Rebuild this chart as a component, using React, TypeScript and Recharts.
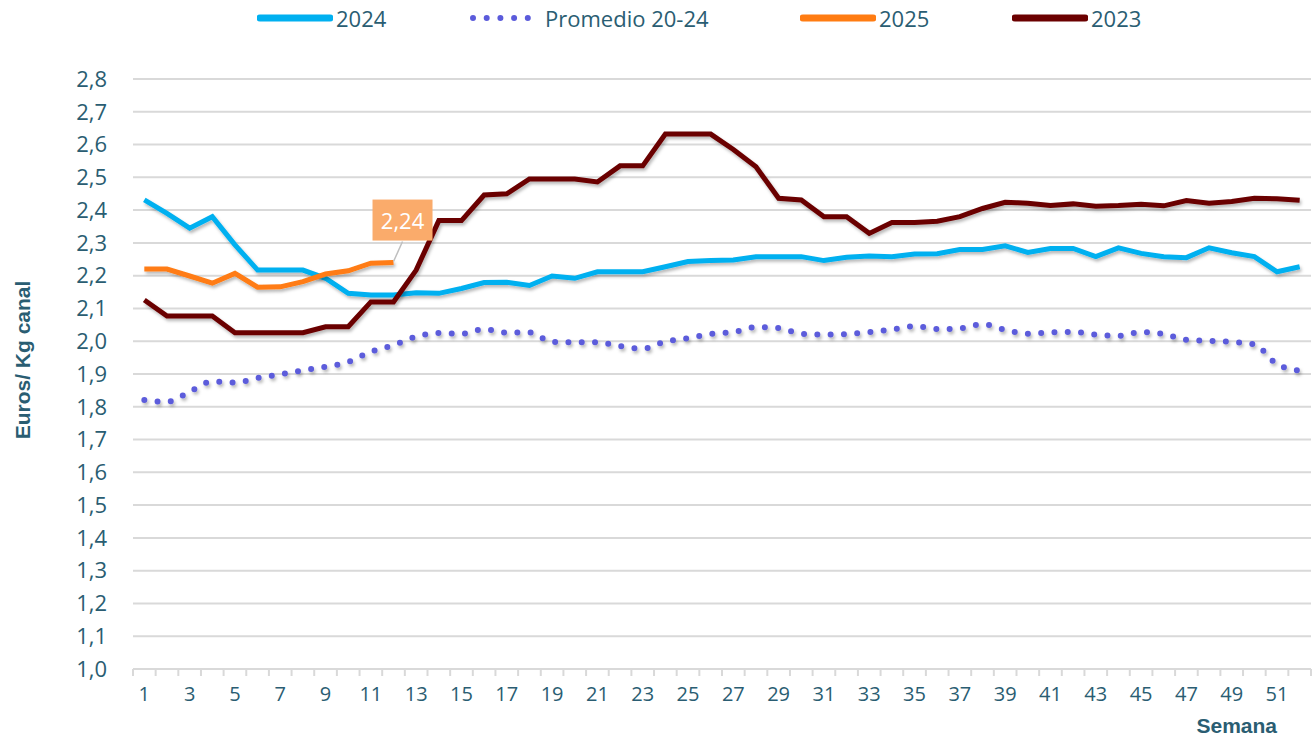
import React from 'react'
import { LineChart, Line, XAxis, YAxis, CartesianGrid, LabelList } from 'recharts'

// semanas
const weeks = [
  1, 2, 3, 4, 5, 6, 7, 8, 9, 10, 11, 12, 13, 14, 15, 16, 17, 18, 19, 20, 21, 22, 23, 24, 25, 26,
  27, 28, 29, 30, 31, 32, 33, 34, 35, 36, 37, 38, 39, 40, 41, 42, 43, 44, 45, 46, 47, 48, 49, 50, 51, 52,
]

const s2024 = [
  2.431, 2.39, 2.345, 2.38, 2.294, 2.217, 2.217, 2.217, 2.192, 2.146,
  2.141, 2.141, 2.148, 2.146, 2.161, 2.179, 2.18, 2.17, 2.199, 2.192,
  2.212, 2.212, 2.212, 2.227, 2.243, 2.246, 2.248, 2.258, 2.258, 2.258,
  2.246, 2.256, 2.26, 2.258, 2.266, 2.267, 2.28, 2.28, 2.291, 2.271,
  2.283, 2.283, 2.258, 2.285, 2.268, 2.258, 2.255, 2.285, 2.27, 2.258,
  2.212, 2.227,
]

const promedio = [
  1.821, 1.815, 1.846, 1.877, 1.874, 1.888, 1.899, 1.911, 1.922, 1.937,
  1.968, 1.988, 2.014, 2.025, 2.023, 2.037, 2.026, 2.027, 1.998, 1.997,
  1.997, 1.985, 1.977, 1.999, 2.009, 2.022, 2.028, 2.043, 2.04, 2.023,
  2.02, 2.022, 2.028, 2.036, 2.046, 2.037, 2.039, 2.052, 2.035, 2.023,
  2.027, 2.028, 2.02, 2.016, 2.028, 2.022, 2.004, 2.001, 1.998, 1.99,
  1.93, 1.91,
]

const s2025 = [2.22, 2.22, 2.199, 2.177, 2.207, 2.165, 2.166, 2.182, 2.205, 2.215, 2.238, 2.24]

const s2023 = [
  2.126, 2.077, 2.077, 2.077, 2.026, 2.026, 2.026, 2.026, 2.044, 2.044,
  2.12, 2.12, 2.217, 2.368, 2.368, 2.446, 2.45, 2.495, 2.495, 2.495,
  2.486, 2.535, 2.535, 2.632, 2.632, 2.632, 2.585, 2.532, 2.436, 2.431,
  2.38, 2.38, 2.329, 2.362, 2.362, 2.366, 2.38, 2.405, 2.424, 2.421,
  2.414, 2.419, 2.412, 2.414, 2.418, 2.413, 2.429, 2.421, 2.426, 2.436,
  2.435, 2.43,
]

const yTicks = [1.0, 1.1, 1.2, 1.3, 1.4, 1.5, 1.6, 1.7, 1.8, 1.9, 2.0, 2.1, 2.2, 2.3, 2.4, 2.5, 2.6, 2.7, 2.8]

const data = weeks.map((w, i) => ({
  week: w,
  y2024: s2024[i],
  prom: promedio[i],
  y2025: i < s2025.length ? s2025[i] : null,
  y2023: s2023[i],
}))

const TEXT = '#2A5D72'
const FONT = '"Open Sans", sans-serif'

const WeekTick = (props: any) => {
  const { x, y, payload, index } = props
  const half = payload.offset || 0
  return (
    <g>
      <line x1={x - half} y1={y} x2={x - half} y2={y + 7} stroke='#D9D9D9' strokeWidth={2} />
      {index === weeks.length - 1 && (
        <line x1={x + half} y1={y} x2={x + half} y2={y + 7} stroke='#D9D9D9' strokeWidth={2} />
      )}
      {payload.value % 2 === 1 && (
        <text x={x} y={y + 32} textAnchor='middle' fill={TEXT} fontSize={20} fontFamily={FONT}>
          {payload.value}
        </text>
      )}
    </g>
  )
}

const PriceLabel = (props: any) => {
  const { x, y, value, index } = props
  if (index !== s2025.length - 1) return null
  return (
    <g>
      <line x1={x + 9} y1={y - 21} x2={x} y2={y - 1} stroke='#BFBFBF' strokeWidth={1.5} />
      <rect x={x - 21} y={y - 63} width={60} height={41} fill='#FAAB6B' />
      <text x={x + 9} y={y - 34} textAnchor='middle' fill='#fff' fontSize={22} fontFamily={FONT}>
        {String(value.toFixed(2)).replace('.', ',')}
      </text>
    </g>
  )
}

const legendItems = [
  { name: '2024', color: '#00B0F0', dotted: false, left: 257 },
  { name: 'Promedio 20-24', color: '#5B5BDB', dotted: true, left: 470 },
  { name: '2025', color: '#FF7C12', dotted: false, left: 800 },
  { name: '2023', color: '#6B0000', dotted: false, left: 1012 },
]

function Legend() {
  return (
    <>
      {legendItems.map((it) => (
        <div key={it.name} style={{ position: 'absolute', left: it.left, top: 4, height: 28, display: 'flex', alignItems: 'center' }}>
          <svg width={it.dotted ? 62 : 76} height={12}>
            <line
              x1={3}
              y1={6}
              x2={it.dotted ? 58 : 73}
              y2={6}
              stroke={it.color}
              strokeWidth={it.dotted ? 6 : 7}
              strokeLinecap='round'
              strokeDasharray={it.dotted ? '0 13.7' : undefined}
            />
          </svg>
          <span style={{ marginLeft: it.dotted ? 13 : 3, color: TEXT, fontSize: 22, fontFamily: FONT, lineHeight: '28px' }}>
            {it.name}
          </span>
        </div>
      ))}
    </>
  )
}

export default function App() {
  return (
    <div style={{ position: 'absolute', left: 0, top: 0, width: 1313, height: 738, background: '#fff' }}>
      <Legend />
      <LineChart width={1313} height={738} data={data} margin={{ top: 79, right: 2, left: 0, bottom: 0 }}>
        <defs>
          <filter id='shadow' filterUnits='userSpaceOnUse' x={0} y={0} width={1313} height={738}>
            <feDropShadow dx={1.5} dy={2.5} stdDeviation={1.5} floodColor='#000' floodOpacity={0.28} />
          </filter>
        </defs>
        <CartesianGrid vertical={false} stroke='#D9D9D9' strokeWidth={2} />
        <XAxis
          dataKey='week'
          scale='band'
          height={69}
          interval={0}
          tickLine={false}
          tickSize={0}
          tickMargin={0}
          axisLine={{ stroke: '#D9D9D9', strokeWidth: 2 }}
          tick={<WeekTick />}
          label={{
            content: (p: any) => (
              <text
                x={p.viewBox.x + p.viewBox.width - 34}
                y={p.viewBox.y + 64}
                textAnchor='end'
                fill={TEXT}
                fontSize={21}
                fontWeight='bold'
                fontFamily='"Liberation Sans", Arial, sans-serif'
              >
                Semana
              </text>
            ),
          }}
        />
        <YAxis
          width={133}
          domain={[1, 2.8]}
          ticks={yTicks}
          interval={0}
          axisLine={false}
          tickLine={false}
          tickSize={0}
          tickMargin={26}
          tick={{ fill: TEXT, fontSize: 22, fontFamily: FONT }}
          tickFormatter={(v: number) => v.toFixed(1).replace('.', ',')}
          label={{
            content: (p: any) => (
              <text
                x={30}
                y={p.viewBox.y + p.viewBox.height / 2 - 14}
                transform={`rotate(-90, 30, ${p.viewBox.y + p.viewBox.height / 2 - 14})`}
                textAnchor='middle'
                fill={TEXT}
                fontSize={21}
                fontWeight='bold'
                fontFamily='"Liberation Sans", Arial, sans-serif'
              >
                Euros/ Kg canal
              </text>
            ),
          }}
        />
        <Line dataKey='y2024' stroke='#00B0F0' strokeWidth={5} dot={false} filter='url(#shadow)' isAnimationActive={false} />
        <Line
          dataKey='prom'
          type='monotone'
          stroke='#5B5BDB'
          strokeWidth={6}
          strokeDasharray='0 13.3'
          strokeLinecap='round'
          dot={false}
          filter='url(#shadow)'
          isAnimationActive={false}
        />
        <Line dataKey='y2025' stroke='#FF7C12' strokeWidth={5} dot={false} filter='url(#shadow)' isAnimationActive={false}>
          <LabelList dataKey='y2025' content={<PriceLabel />} />
        </Line>
        <Line dataKey='y2023' stroke='#6B0000' strokeWidth={5} dot={false} filter='url(#shadow)' isAnimationActive={false} />
      </LineChart>
    </div>
  )
}
